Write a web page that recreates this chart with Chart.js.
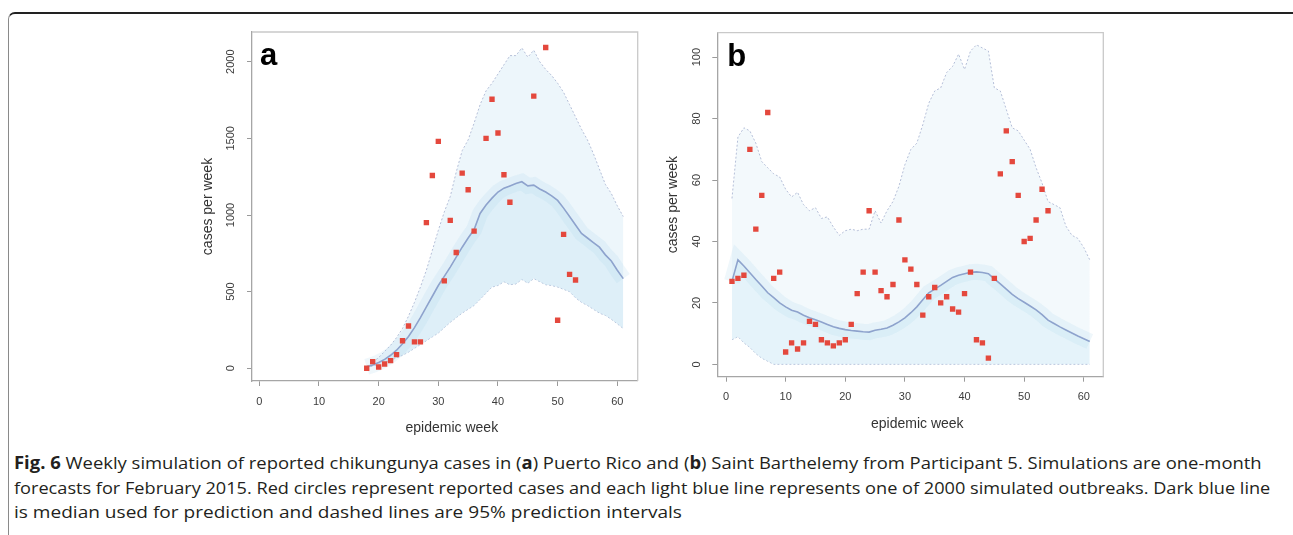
<!DOCTYPE html>
<html>
<head>
<meta charset="utf-8">
<script src="https://cdn.jsdelivr.net/npm/chart.js@4.4.1/dist/chart.umd.min.js"></script>
<style>
html, body { margin: 0; padding: 0; background: #fff; }
body { width: 1293px; height: 535px; position: relative; overflow: hidden; font-family: "Liberation Sans", Arial, sans-serif; }
.frame { position: absolute; left: 8px; top: 12px; width: 1300px; height: 600px; border-top: 2px solid #222; border-left: 1.5px solid #8a8a8a; border-top-left-radius: 7px; }
.panel { position: absolute; top: 20px; }
#pa { left: 190px; }
#pb { left: 655px; }
.cap { position: absolute; left: 14px; font-family: "Open Sans", "Liberation Sans", sans-serif; font-size: 17px; color: #231f20; white-space: nowrap; transform-origin: 0 50%; line-height: 20px; }
</style>
</head>
<body>
<div class="frame"></div>
<canvas id="pa" class="panel" width="460" height="425"></canvas>
<canvas id="pb" class="panel" width="460" height="425"></canvas>
<div class="cap" id="c1" style="top:453px" data-w="1248"><b>Fig. 6</b> Weekly simulation of reported chikungunya cases in (<b>a</b>) Puerto Rico and (<b>b</b>) Saint Barthelemy from Participant 5. Simulations are one-month</div>
<div class="cap" id="c2" style="top:478px" data-w="1256">forecasts for February 2015. Red circles represent reported cases and each light blue line represents one of 2000 simulated outbreaks. Dark blue line</div>
<div class="cap" id="c3" style="top:502px" data-w="668">is median used for prediction and dashed lines are 95% prediction intervals</div>
<script>
// panel a: Puerto Rico
const simWeeksA = [18,19,20,21,22,23,24,25,26,27,28,29,30,31,32,33,34,35,36,37,38,39,40,41,42,43,44,45,46,47,48,49,50,51,52,53,54,55,56,57,58,59,60,61];
const upperA = [10,40,70,110,150,200,260,340,430,530,640,770,900,1020,1120,1280,1420,1490,1600,1720,1810,1860,1920,1980,2040,2040,2090,2030,2075,2000,1950,1910,1860,1800,1720,1640,1560,1490,1400,1300,1200,1140,1060,990];
const medianA = [10,22,38,58,85,118,160,208,265,330,400,470,540,600,660,725,790,850,905,1010,1065,1110,1150,1175,1190,1205,1217,1190,1195,1170,1150,1125,1095,1045,990,935,880,850,820,790,740,700,640,585];
const lowerA = [5,15,25,38,52,68,85,105,130,155,180,205,230,265,300,330,360,385,410,450,490,530,540,565,545,550,580,555,585,565,545,540,530,515,500,460,430,410,385,360,345,320,290,260];
const reportedWeeksA = [18,19,20,21,22,23,24,25,26,27,28,29,30,31,32,33,34,35,36,38,39,40,41,42,46,48,50,51,52,53];
const reportedA = [0,43,8,28,50,89,180,276,172,172,950,1258,1480,570,965,755,1273,1165,895,1500,1755,1535,1263,1083,1776,2093,313,874,613,576];
const xTicksA = [0,10,20,30,40,50,60];
const yTicksA = [0,500,1000,1500,2000];

// panel b: Saint Barthelemy
const simWeeksB = [1,2,3,4,5,6,7,8,9,10,11,12,13,14,15,16,17,18,19,20,21,22,23,24,25,26,27,28,29,30,31,32,33,34,35,36,37,38,39,40,41,42,43,44,45,46,47,48,49,50,51,52,53,54,55,56,57,58,59,60,61];
const upperB = [54,74,77,76,72,66,64,62,61,57,54.5,56,52,50,51,47.5,48,44.7,42,43.5,44,43.5,44,44,50,46,50,53,58,65,70,72,78,85,89,90,95,97,101,96,102,104,103,102,90,89,83,77,76,73,70,64,59,53,52,51,45,42,41,38,34];
const medianB = [27,34,32,29.8,27.6,25.5,23.3,21.7,20,18.7,17.6,17,16,15.2,14.5,13.8,13,12.2,11.7,11.3,11,10.8,10.6,10.5,11.1,11.4,11.8,12.7,13.8,15.1,16.8,18.7,21,23.3,24.5,25.7,27,28.3,29,29.5,30,30.1,29.9,29.5,27.8,26.2,24.5,22.8,21.4,20.2,19,17.7,16.2,14.4,13.3,12.2,11.2,10.2,9.2,8.3,7.4];
const lowerB = [8,9,7,5.5,3.5,2,1,0,0,0,0,0,0,0,0,0,0,0,0,0,0,0,0,0,0,0,0,0,0,0,0,0,0,0,0,0,0,0,0,0,0,0,0,0,0,0,0,0,0,0,0,0,0,0,0,0,0,0,0,0,0];
const reportedWeeksB = [1,2,3,4,5,6,7,8,9,10,11,12,13,14,15,16,17,18,19,20,21,22,23,24,25,26,27,28,29,30,31,32,33,34,35,36,37,38,39,40,41,42,43,44,45,46,47,48,49,50,51,52,53,54];
const reportedB = [27,28,29,70,44,55,82,28,30,4,7,5,7,14,13,8,7,6,7,8,13,23,30,50,30,24,22,26,47,34,31,26,16,22,25,20,22,18,17,23,30,8,7,2,28,62,76,66,55,40,41,47,57,50];
const xTicksB = [0,10,20,30,40,50,60];
const yTicksB = [0,20,40,60,80,100];

const pts = (xs, ys) => xs.map((x, i) => ({ x: x, y: ys[i] }));

const frameBox = {
  id: 'frameBox',
  beforeDatasetsDraw(chart, args, opts) {
    const a = chart.chartArea;
    const ctx = chart.ctx;
    ctx.save();
    ctx.strokeStyle = '#c9c9c9';
    ctx.lineWidth = 1.3;
    ctx.beginPath();
    ctx.moveTo(a.left, a.top);
    ctx.lineTo(a.right, a.top);
    ctx.lineTo(a.right, a.bottom);
    ctx.stroke();
    ctx.restore();
  },
  afterDraw(chart, args, opts) {
    const a = chart.chartArea;
    const ctx = chart.ctx;
    ctx.save();
    ctx.fillStyle = '#000';
    ctx.font = 'bold 31px "Liberation Sans", Arial, sans-serif';
    ctx.textBaseline = 'alphabetic';
    ctx.fillText(opts.letter, a.left + opts.dx, a.top + 33);
    ctx.restore();
  }
};

function makePanel(id, o) {
  const tickFont = { family: 'Liberation Sans', size: 11 };
  const titleFont = { family: 'Liberation Sans', size: 14 };
  const dash = { borderColor: '#b5bfd8', borderWidth: 1, borderDash: [2, 2], pointRadius: 0 };
  return new Chart(document.getElementById(id), {
    type: 'line',
    data: {
      datasets: [
        Object.assign({ data: pts(o.simWeeks, o.lower), fill: false, order: 5 }, dash),
        { data: pts(o.simWeeks, o.median), borderWidth: 0, pointRadius: 0, fill: '-1', backgroundColor: o.bandLow, order: 4 },
        Object.assign({ data: pts(o.simWeeks, o.upper), fill: '-1', backgroundColor: o.bandHigh, order: 3 }, dash),
        { data: pts(o.simWeeks, o.median), borderColor: 'rgba(165,212,235,0.18)', borderWidth: 16, pointRadius: 0, fill: false, order: 2 },
        { data: pts(o.simWeeks, o.median), borderColor: '#8ea3cd', borderWidth: 1.6, pointRadius: 0, fill: false, order: 1 },
        { data: pts(o.repWeeks, o.rep), showLine: false, pointStyle: 'rect', pointRadius: 3.8, pointBackgroundColor: '#e4483d', pointBorderWidth: 0, order: 0 }
      ]
    },
    options: {
      responsive: false,
      animation: false,
      layout: { padding: { left: 0, top: 12, right: o.padRight, bottom: 0 } },
      plugins: { legend: { display: false }, tooltip: { enabled: false }, frameBox: { letter: o.letter, dx: o.letterDx } },
      scales: {
        x: {
          type: 'linear', min: o.xMin, max: o.xMax,
          afterBuildTicks: s => { s.ticks = o.xTicks.map(v => ({ value: v })); },
          afterFit: s => { s.height = o.xH; },
          grid: { display: true, drawOnChartArea: false, drawTicks: true, tickLength: 5, color: '#9a9a9a' },
          border: { display: true, color: '#a6a6a6', width: 1.3 },
          ticks: { font: tickFont, color: '#3c3c3c', padding: 9, maxRotation: 0, autoSkip: false, callback: v => String(v) },
          title: { display: true, text: '\u2002\u2002epidemic week', font: titleFont, color: '#333', padding: { top: 0, bottom: o.xTitlePad } }
        },
        y: {
          type: 'linear', min: o.yMin, max: o.yMax,
          afterBuildTicks: s => { s.ticks = o.yTicks.map(v => ({ value: v })); },
          afterFit: s => { s.width = o.yW; },
          grid: { display: true, drawOnChartArea: false, drawTicks: true, tickLength: 5, color: '#9a9a9a' },
          border: { display: true, color: '#a6a6a6', width: 1.3 },
          ticks: { font: tickFont, color: '#3c3c3c', padding: o.yTickPad, minRotation: 90, maxRotation: 90, crossAlign: 'center', autoSkip: false, callback: v => String(v) },
          title: { display: true, text: 'cases per week', font: titleFont, color: '#333', padding: { top: o.yTitlePad, bottom: 0 } }
        }
      }
    },
    plugins: [frameBox]
  });
}

makePanel('pa', {
  simWeeks: simWeeksA, upper: upperA, median: medianA, lower: lowerA,
  repWeeks: reportedWeeksA, rep: reportedA, xTicks: xTicksA, yTicks: yTicksA,
  xMin: -1.23, xMax: 63.42, yMin: -83, yMax: 2194,
  yW: 62, xH: 64, padRight: 12.3, xTitlePad: 8, yTitlePad: 9.6, yTickPad: 4,
  bandLow: 'rgba(200,229,243,0.6)', bandHigh: 'rgba(214,236,246,0.45)', letter: 'a', letterDx: 8
});

makePanel('pb', {
  simWeeks: simWeeksB, upper: upperB, median: medianB, lower: lowerB,
  repWeeks: reportedWeeksB, rep: reportedB, xTicks: xTicksB, yTicks: yTicksB,
  xMin: -1.46, xMax: 63.27, yMin: -4.03, yMax: 108,
  yW: 62.3, xH: 68.3, padRight: 11.7, xTitlePad: 12.6, yTitlePad: 9.6, yTickPad: 6,
  bandLow: 'rgba(208,233,245,0.55)', bandHigh: 'rgba(224,240,248,0.4)', letter: 'b', letterDx: 10
});

// fit each caption line to its width in the figure
document.querySelectorAll('.cap').forEach(el => {
  const w = el.scrollWidth;
  el.style.transform = 'scaleX(' + (Number(el.dataset.w) / w) + ')';
});
</script>
</body>
</html>
